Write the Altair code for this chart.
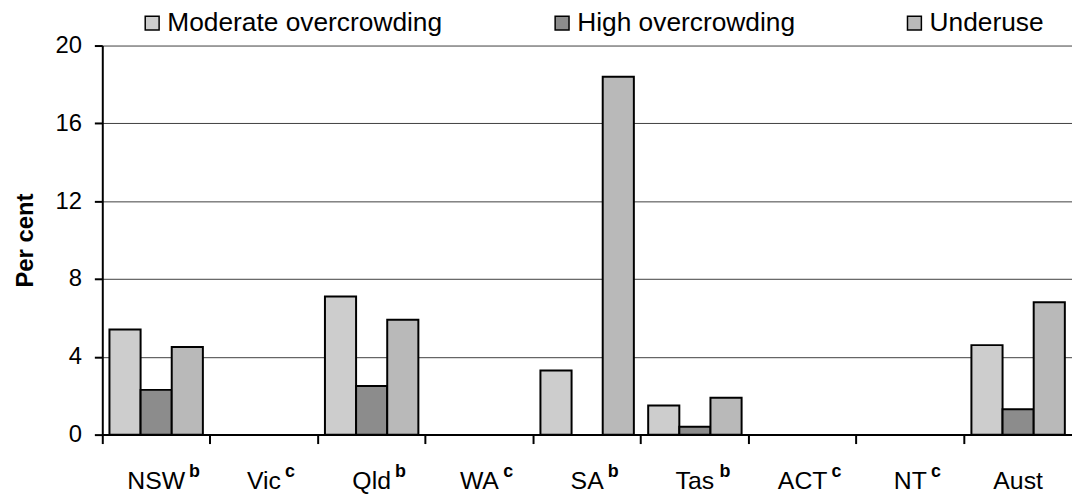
import altair as alt
import pandas as pd

states = ["NSW", "Vic", "Qld", "WA", "SA", "Tas", "ACT", "NT", "Aust"]
sups = ["b", "c", "b", "c", "b", "b", "c", "c", ""]
series = ["Moderate overcrowding", "High overcrowding", "Underuse"]
moderate = [5.4, None, 7.1, None, 3.3, 1.5, None, None, 4.6]
high = [2.3, None, 2.5, None, None, 0.4, None, None, 1.3]
underuse = [4.5, None, 5.9, None, 18.4, 1.9, None, None, 6.8]
y_ticks = [0, 4, 8, 12, 16, 20]
colors = ["#cdcdcd", "#8c8c8c", "#b9b9b9"]

rows = []
for i, s in enumerate(states):
    for name, vals in zip(series, [moderate, high, underuse]):
        if vals[i] is not None:
            rows.append({"state": s, "series": name, "value": vals[i]})
df = pd.DataFrame(rows)

W, H = 977, 392
FONT = "Liberation Sans"
LABEL_SIZE = 25

# Arial/Liberation Sans advance widths (per 1000 em) used to place superscripts
ARIAL = {"N": 722, "S": 667, "W": 944, "V": 667, "i": 222, "c": 500, "Q": 778,
         "l": 222, "d": 556, "A": 667, "T": 611, "a": 556, "s": 500, "C": 722,
         "u": 556, "t": 278}


def text_width(s, size):
    return sum(ARIAL.get(ch, 556) for ch in s) / 1000 * size


lab = pd.DataFrame({"state": states, "sup": sups})
lab = lab[lab["sup"] != ""].copy()
lab["off"] = [text_width(s, LABEL_SIZE) / 2 + 4 for s in lab["state"]]

x_enc = alt.X(
    "state:N",
    sort=states,
    title=None,
    scale=alt.Scale(domain=states, paddingInner=0, paddingOuter=0),
    axis=alt.Axis(
        bandPosition=0, labelAngle=0,
        tickSize=9, tickWidth=2, tickColor="black",
        domainWidth=2, domainColor="black",
        labelFontSize=LABEL_SIZE, labelPadding=25, labelFont=FONT, labelColor="black",
        grid=False,
    ),
)

bars = alt.Chart(df).mark_bar(stroke="black", strokeWidth=2).encode(
    x=x_enc,
    xOffset=alt.XOffset(
        "series:N", sort=series,
        scale=alt.Scale(domain=series, paddingInner=0, paddingOuter=0.23),
    ),
    y=alt.Y(
        "value:Q",
        scale=alt.Scale(domain=[0, 20], nice=False),
        axis=alt.Axis(
            values=y_ticks, title="Per cent",
            titleFontSize=24, titleFontWeight="bold", titleFont=FONT, titleColor="black",
            titlePadding=18,
            labelFontSize=24, labelFont=FONT, labelColor="black", labelPadding=13,
            tickSize=8, tickWidth=2, tickColor="black",
            domainWidth=2, domainColor="black",
            grid=True, gridColor="#404040", gridWidth=1,
        ),
    ),
    color=alt.Color(
        "series:N",
        scale=alt.Scale(domain=series, range=colors),
        legend=alt.Legend(
            title=None, orient="none", legendX=37, legendY=-36,
            direction="horizontal", columnPadding=107,
            labelFontSize=26.5, labelFont=FONT, labelColor="black", labelLimit=500,
            labelOffset=2,
            symbolType="square", symbolSize=196,
            symbolStrokeColor="black", symbolStrokeWidth=1.5, symbolOpacity=1,
        ),
    ),
)

sup = alt.Chart(lab).mark_text(
    align="left", baseline="alphabetic", dx={"expr": "datum.off"},
    fontSize=18, fontWeight="bold", font=FONT, color="black",
).encode(
    x=x_enc,
    y=alt.value(435),
    text="sup:N",
)

chart = alt.layer(bars, sup).properties(
    width=W, height=H,
    autosize=alt.AutoSizeParams(type="none"),
    padding={"left": 95, "top": 36, "right": 0, "bottom": 58},
).configure_view(stroke=None)

chart.save("out.html", embed_options={"renderer": "svg", "actions": False})
